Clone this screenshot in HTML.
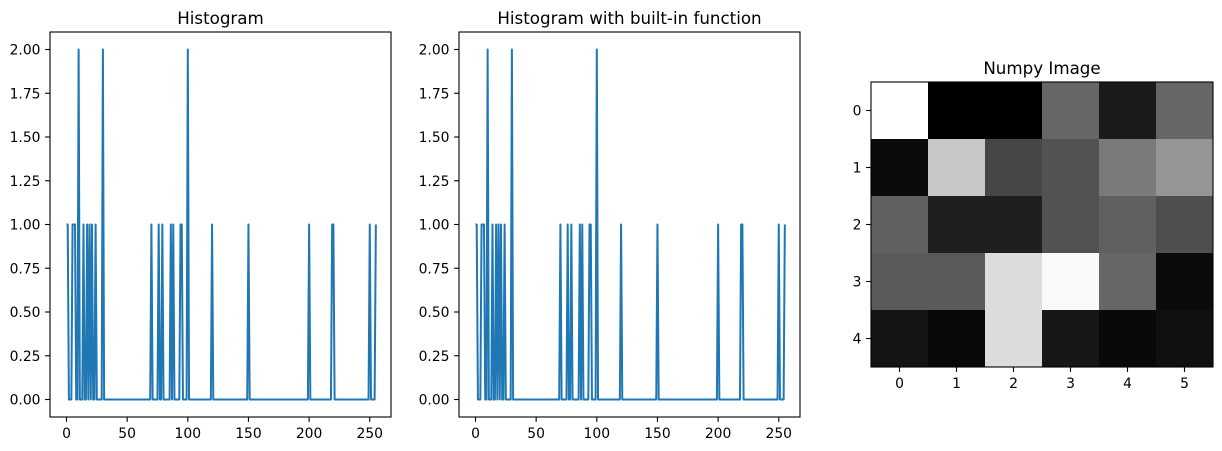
<!DOCTYPE html>
<html><head><meta charset="utf-8"><style>
body{margin:0;background:#fff}
svg{display:block;font-family:"DejaVu Sans","Liberation Sans",sans-serif}
</style></head><body>
<svg id="fig" width="1222" height="451" viewBox="0 0 1222 451"></svg>
<script>
// histogram data: pixel values with count 1 and count 2
const onesBins = [0,1,5,6,7,14,17,19,21,24,70,76,79,86,88,94,95,120,150,200,219,220,250,255];
const twosBins = [10,30,100];
const xTicks = [0,50,100,150,200,250];
const yTicks = [0,0.25,0.5,0.75,1,1.25,1.5,1.75,2];
const titles = ["Histogram","Histogram with built-in function"];
// image pixel values (grayscale)
const imgRows = [
 [255,0,0,102,27,102],
 [11,200,70,82,122,149],
 [96,31,31,82,96,78],
 [90,90,220,249,102,11],
 [20,8,220,23,9,16]
];
const colLabels=[0,1,2,3,4,5];
const rowLabels=[0,1,2,3,4];

const NS="http://www.w3.org/2000/svg";
const svg=document.getElementById('fig');
function mk(tag,attrs,parent){const e=document.createElementNS(NS,tag);for(const k in attrs)e.setAttribute(k,attrs[k]);(parent||svg).appendChild(e);return e;}

const counts=new Array(256).fill(0);
onesBins.forEach(b=>counts[b]+=1);
twosBins.forEach(b=>counts[b]+=2);
const FS=13.9, TFS=16.7, TL=4.9;

[50,459].forEach((L,i)=>{
  const R=L+341,T=32,B=417;
  const xmin=-13.6,xmax=267.5,ymin=-0.1,ymax=2.1;
  const sx=v=>L+(v-xmin)/(xmax-xmin)*(R-L);
  const sy=v=>B-(v-ymin)/(ymax-ymin)*(B-T);
  const g=mk('g',{});
  
  
  let d='';
  counts.forEach((c,k)=>{d+=(k?'L':'M')+sx(k).toFixed(2)+','+sy(c).toFixed(2);});
  const line=mk('path',{d:d,fill:'none',stroke:'#1f77b4','stroke-width':2,'stroke-linejoin':'round'},g);
  
  
  const fr=mk('rect',{x:L,y:T,width:R-L,height:B-T,fill:'none',stroke:'#000','stroke-width':1.1},g);
  
  
  xTicks.forEach(t=>{
    mk('line',{x1:sx(t),x2:sx(t),y1:B,y2:B+TL,stroke:'#000','stroke-width':1.1},g);
    const tx=mk('text',{x:sx(t),y:B+21,'font-size':FS,'text-anchor':'middle'},g);
    tx.textContent=t;
    
    
  });
  yTicks.forEach(t=>{
    mk('line',{x1:L-TL,x2:L,y1:sy(t),y2:sy(t),stroke:'#000','stroke-width':1.1},g);
    const tx=mk('text',{x:L-9.5,y:sy(t)+5,'font-size':FS,'text-anchor':'end'},g);
    tx.textContent=t.toFixed(2);
    
    
  });
  const ti=mk('text',{x:(L+R)/2,y:T-8,'font-size':TFS,'text-anchor':'middle'},g);
  ti.textContent=titles[i];
  
  
});

// image panel
(function(){
  const L=871,T=82,R=1213,B=367;
  const nc=imgRows[0].length,nr=imgRows.length;
  const cw=(R-L)/nc,ch=(B-T)/nr;
  const g=mk('g',{});
  
  
  const vals=imgRows.flat();const mn=Math.min(...vals),mx=Math.max(...vals);
  imgRows.forEach((row,r)=>row.forEach((v,c)=>{
    const gv=Math.round((v-mn)/(mx-mn||1)*255);
    const cell=mk('rect',{x:L+c*cw,y:T+r*ch,width:cw+0.5,height:ch+0.5,fill:`rgb(${gv},${gv},${gv})`},g);
    
    
  }));
  mk('rect',{x:L,y:T,width:R-L,height:B-T,fill:'none',stroke:'#000','stroke-width':1.1},g);
  colLabels.forEach((t,c)=>{
    const x=L+(c+0.5)*cw;
    mk('line',{x1:x,x2:x,y1:B,y2:B+TL,stroke:'#000','stroke-width':1.1},g);
    const tx=mk('text',{x:x,y:B+21,'font-size':FS,'text-anchor':'middle'},g);
    tx.textContent=t;
    
    
  });
  rowLabels.forEach((t,r)=>{
    const y=T+(r+0.5)*ch;
    mk('line',{x1:L-TL,x2:L,y1:y,y2:y,stroke:'#000','stroke-width':1.1},g);
    const tx=mk('text',{x:L-9.5,y:y+5,'font-size':FS,'text-anchor':'end'},g);
    tx.textContent=t;
    
    
  });
  const ti=mk('text',{x:(L+R)/2,y:T-8,'font-size':TFS,'text-anchor':'middle'},g);
  ti.textContent='Numpy Image';
  
  
})();
</script>
</body></html>
